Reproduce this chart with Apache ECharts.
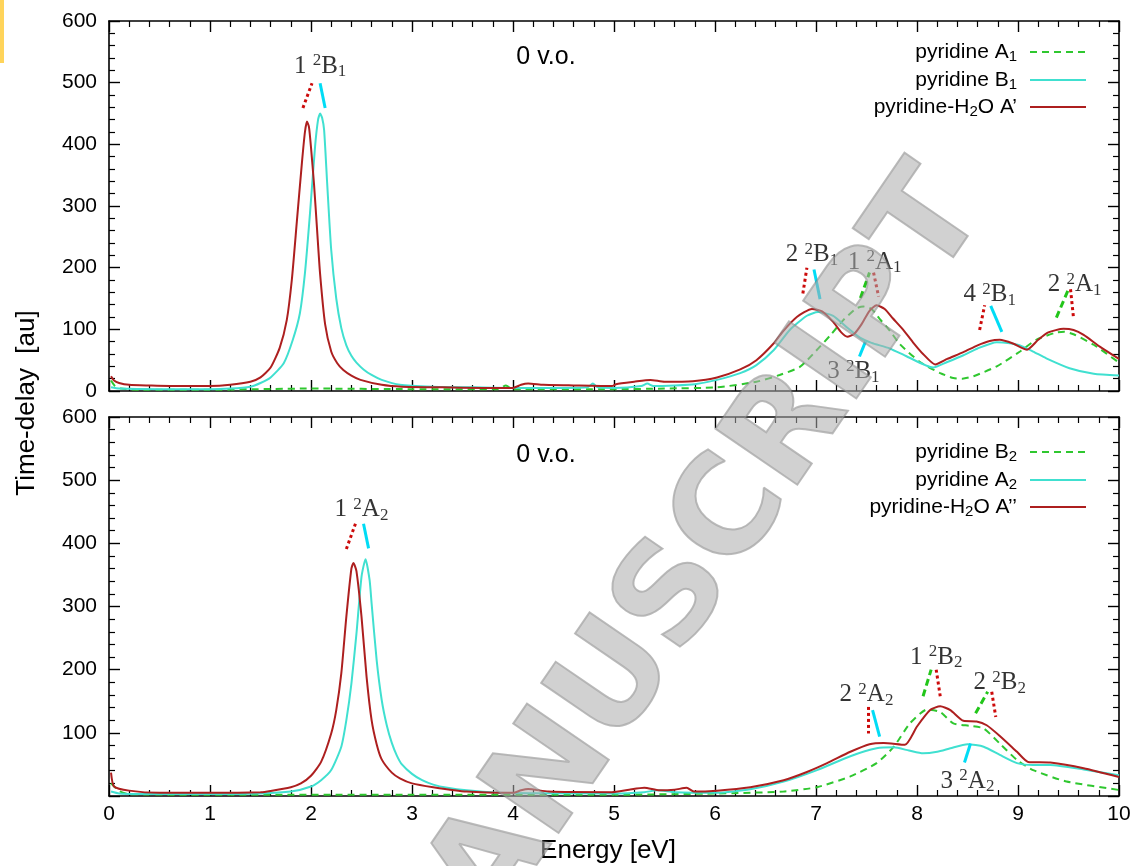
<!DOCTYPE html>
<html>
<head>
<meta charset="utf-8">
<script src="https://cdn.jsdelivr.net/npm/echarts@6/dist/echarts.min.js"></script>
<style>html,body{margin:0;padding:0;background:#fff}#c{width:1134px;height:866px}</style>
</head>
<body>
<div id="c"></div>
<script>
// ---------- data (energy [eV], time-delay [au]) ----------
var topGreenA1 = [[0.02,17],[0.06,8],[0.12,4],[0.3,2],[1.0,2],[2.0,4],[3.0,3],[3.85,3],[3.93,9],[4.0,3],[5.0,3],[5.5,4],[6.02,6],[6.41,15],[6.64,26],[6.84,39],[7.0,65],[7.14,90],[7.27,115],[7.4,134],[7.47,137],[7.55,133],[7.63,117],[7.73,98],[7.83,76],[8.03,47],[8.23,29],[8.36,21],[8.45,20],[8.56,24],[8.79,40],[9.02,64],[9.18,83],[9.38,95],[9.46,96],[9.55,92],[9.75,75],[10.0,46]];
var topCyanB1 = [[0.02,6],[0.1,4],[0.5,3],[1.0,3],[1.2,4],[1.4,7],[1.5,13],[1.6,22],[1.73,45],[1.82,83],[1.89,126],[1.94,191],[1.99,288],[2.04,396],[2.07,440],[2.09,450],[2.11,443],[2.13,423],[2.16,337],[2.2,229],[2.25,150],[2.3,102],[2.35,74],[2.4,57],[2.45,46],[2.52,35],[2.6,26],[2.7,18],[2.88,10],[3.2,7],[3.6,6],[4.0,5],[4.5,5],[4.74,6],[4.79,12],[4.84,6],[5.0,5],[5.27,8],[5.33,12],[5.39,8],[5.6,9],[5.8,11],[6.02,18],[6.25,29],[6.41,42],[6.58,66],[6.74,99],[6.91,122],[7.02,128],[7.17,122],[7.3,104],[7.44,86],[7.55,78],[7.73,69],[7.9,56],[8.16,38],[8.3,47],[8.46,58],[8.6,69],[8.79,79],[8.9,78],[9.02,74],[9.15,64],[9.28,53],[9.51,37],[9.75,28],[10.0,25]];
var topRedH2O = [[0.02,24],[0.05,17],[0.1,13],[0.2,10],[0.4,9],[0.7,8],[1.0,8],[1.2,10],[1.4,15],[1.5,22],[1.6,38],[1.69,70],[1.76,115],[1.81,180],[1.86,275],[1.91,370],[1.94,420],[1.96,437],[1.98,428],[2.0,395],[2.03,335],[2.06,262],[2.09,190],[2.14,108],[2.2,64],[2.26,45],[2.32,34],[2.4,25],[2.49,18],[2.7,10],[2.9,7],[3.3,6],[3.7,5],[4.0,5],[4.08,10],[4.15,12],[4.3,10],[4.6,9],[4.98,8],[5.02,11],[5.2,15],[5.36,18],[5.5,15],[5.78,16],[6.02,22],[6.25,35],[6.41,50],[6.58,77],[6.68,98],[6.81,120],[6.96,133],[7.06,129],[7.17,112],[7.25,95],[7.31,88],[7.38,93],[7.45,108],[7.53,130],[7.6,139],[7.68,133],[7.76,118],[7.86,100],[7.96,79],[8.06,60],[8.18,43],[8.3,52],[8.46,63],[8.6,74],[8.72,81],[8.82,83],[8.95,77],[9.09,67],[9.2,83],[9.3,95],[9.45,101],[9.55,99],[9.65,91],[9.81,72],[10.0,52]];

var botGreenB2 = [[0.02,20],[0.1,8],[0.2,3],[1.0,2],[3.0,2],[5.0,2],[6.02,4],[6.68,7],[7.01,14],[7.34,31],[7.6,52],[7.77,78],[7.93,115],[8.1,137],[8.23,133],[8.36,115],[8.53,111],[8.66,107],[8.82,83],[8.99,57],[9.15,41],[9.48,23],[10.0,9.5]];
var botCyanA2 = [[0.02,7],[0.1,4],[0.5,3],[1.0,3],[1.5,4],[1.8,7],[2.0,15],[2.1,25],[2.2,41],[2.3,78],[2.35,120],[2.4,178],[2.45,257],[2.5,347],[2.54,375],[2.58,342],[2.6,305],[2.65,215],[2.7,152],[2.75,112],[2.8,84],[2.85,64],[2.9,50],[3.0,35],[3.1,25],[3.21,18],[3.35,13],[3.54,9],[3.87,5],[5.0,4],[5.3,6],[5.43,9],[5.6,6],[6.02,5],[6.35,10.6],[6.68,22.7],[7.01,41],[7.34,63],[7.6,75.5],[7.77,77],[7.92,72],[8.06,67.5],[8.2,70],[8.33,75.5],[8.5,82],[8.66,78],[8.82,65],[8.99,52],[9.15,49],[9.32,49],[9.65,42],[10.0,33]];
var botRedH2O = [[0.02,37],[0.05,15],[0.2,8.5],[0.5,5],[1.0,5],[1.5,6],[1.6,8],[1.8,14],[1.9,20],[2.0,32],[2.1,54],[2.2,99],[2.25,136],[2.3,194],[2.35,284],[2.4,360],[2.42,369],[2.45,356],[2.5,284],[2.55,189],[2.6,120],[2.65,82],[2.7,58],[2.8,37],[2.88,28],[3.0,20],[3.21,14],[3.54,7],[4.0,5],[4.08,9],[4.15,11],[4.35,7],[4.98,6],[5.15,10],[5.3,13],[5.45,9],[5.6,10],[5.72,13],[5.79,7],[6.02,8.5],[6.35,14],[6.68,25],[6.91,38],[7.11,52],[7.34,70],[7.53,82],[7.67,84],[7.88,81],[8.0,110],[8.13,136],[8.23,142],[8.33,136],[8.46,119],[8.59,118],[8.69,112],[8.82,95],[8.99,70],[9.1,54],[9.32,53],[9.65,44],[10.0,30]];

// series names / legend labels
var topNames = ['pyridine A1', 'pyridine B1', "pyridine-H2O A'"];
var topLegendText = ['pyridine A{sub|1}', 'pyridine B{sub|1}', "pyridine-H{sub|2}O A’"];
var botNames = ['pyridine B2', 'pyridine A2', "pyridine-H2O A''"];
var botLegendText = ['pyridine B{sub|2}', 'pyridine A{sub|2}', "pyridine-H{sub|2}O A’’"];

// axis ticks
var xTicks = [0,1,2,3,4,5,6,7,8,9,10];
var yTicks = [0,100,200,300,400,500,600];

// state annotations: labels and marker segments
var topLabelText = ['1 {sup|2}B{sub|1}', '2 {sup|2}B{sub|1}', '1 {sup|2}A{sub|1}', '3 {sup|2}B{sub|1}', '4 {sup|2}B{sub|1}', '2 {sup|2}A{sub|1}'];
var topLabelPos = [[2.09,527],[6.96,221],[7.58,209],[7.37,31],[8.72,156],[9.56,172]];
var topRedTicks = [[[1.92,459],[2.01,499]],[[6.87,158],[6.91,200]],[[7.57,192],[7.62,153]],[[8.62,99],[8.67,139]],[[9.52,165],[9.55,118]]];
var topCyanTicks = [[[2.09,499],[2.14,459]],[[6.98,197],[7.04,149]],[[7.43,56],[7.49,80]],[[8.73,138],[8.84,96]]];
var topGreenTicks = [[[7.44,151],[7.53,192]],[[9.38,119],[9.5,165]]];

var botLabelText = ['1 {sup|2}A{sub|2}', '2 {sup|2}A{sub|2}', '1 {sup|2}B{sub|2}', '2 {sup|2}B{sub|2}', '3 {sup|2}A{sub|2}'];
var botLabelPos = [[2.5,453],[7.5,160],[8.19,220],[8.82,179],[8.5,23]];
var botRedTicks = [[[2.35,391],[2.44,431]],[[7.52,141],[7.52,99]],[[8.19,200],[8.23,158]],[[8.74,165],[8.78,125]]];
var botCyanTicks = [[[2.52,431],[2.57,392]],[[7.56,136],[7.63,94]],[[8.47,53],[8.53,83]]];
var botGreenTicks = [[[8.06,158],[8.14,200]],[[8.58,131],[8.7,165]]];

// ---------- styling ----------
var SANS = '"Liberation Sans", Arial, sans-serif';
var SERIF = '"Liberation Serif", "DejaVu Serif", serif';
var C_GREEN = '#2fc72f', C_CYAN = '#40e0d0', C_RED = '#ad1f1f';
var T_RED = '#cc0a0a', T_CYAN = '#00dcf5', T_GREEN = '#22c61a';

function xAx(grid, pos, labels) {
  return {
    type: 'value', gridIndex: grid, position: pos, min: 0, max: 10, interval: 1,
    axisLine: { onZero: false, lineStyle: { color: '#000', width: 1.6 } },
    axisTick: { inside: true, length: 11, lineStyle: { color: '#000', width: 1.4 } },
    minorTick: { show: true, splitNumber: 5, length: 6, lineStyle: { color: '#000', width: 1.2 } },
    splitLine: { show: false },
    axisLabel: { show: labels, fontSize: 21, fontFamily: SANS, color: '#000', margin: 8,
      formatter: function (v) { return xTicks.indexOf(v) >= 0 ? String(v) : ''; } }
  };
}
function yAx(grid, pos, labels, hideZero) {
  return {
    type: 'value', gridIndex: grid, position: pos, min: 0, max: 600, interval: 100,
    axisLine: { onZero: false, lineStyle: { color: '#000', width: 1.6 } },
    axisTick: { inside: true, length: 11, lineStyle: { color: '#000', width: 1.4 } },
    minorTick: { show: true, splitNumber: 5, length: 6, lineStyle: { color: '#000', width: 1.2 } },
    splitLine: { show: false },
    axisLabel: { show: labels, fontSize: 21, fontFamily: SANS, color: '#000', margin: 12,
      formatter: function (v) { if (hideZero && v === 0) return ''; return yTicks.indexOf(v) >= 0 ? String(v) : ''; } }
  };
}
function segs(list, color, type) {
  return {
    silent: true, symbol: ['none', 'none'], animation: false,
    label: { show: false },
    lineStyle: { color: color, width: 3, type: type },
    data: list.map(function (s) { return [{ coord: s[0] }, { coord: s[1] }]; })
  };
}
function curve(name, data, xi, yi, color, type, marks) {
  var s = {
    name: name, type: 'line', xAxisIndex: xi, yAxisIndex: yi, data: data,
    showSymbol: false, symbol: 'none', smooth: 0.2, animation: false, silent: true,
    lineStyle: { color: color, width: 2, type: type }, itemStyle: { color: color }, z: 3
  };
  if (marks) s.markLine = marks;
  return s;
}
var richT = {
  sup: { fontSize: 17, fontFamily: SERIF, color: '#000', verticalAlign: 'top', lineHeight: 16 },
  sub: { fontSize: 17, fontFamily: SERIF, color: '#000', verticalAlign: 'bottom', lineHeight: 16 }
};
function labelSeries(texts, pos, xi, yi) {
  return {
    type: 'scatter', xAxisIndex: xi, yAxisIndex: yi, symbolSize: 1, silent: true, animation: false,
    itemStyle: { color: 'rgba(0,0,0,0)' }, z: 6,
    data: pos.map(function (p, i) {
      return { value: p, label: { show: true, position: 'inside', formatter: texts[i],
        fontSize: 25, fontFamily: SERIF, color: '#000', lineHeight: 28, rich: richT } };
    })
  };
}
var richL = { sub: { fontSize: 15, fontFamily: SANS, color: '#000', verticalAlign: 'bottom', lineHeight: 14 } };
function legendItem(name, text, top) {
  return {
    data: [name], right: 47, top: top, orient: 'horizontal', align: 'right',
    itemWidth: 56, itemHeight: 14, padding: 0, selectedMode: false,
    itemStyle: { opacity: 0 },
    formatter: function () { return text; },
    textStyle: { fontSize: 21, fontFamily: SANS, color: '#000', lineHeight: 24, padding: [0, 8, 0, 0], rich: richL }
  };
}

var option = {
  backgroundColor: '#fff',
  animation: false,
  grid: [
    { left: 109, top: 21, width: 1010, height: 370 },
    { left: 109, top: 417, width: 1010, height: 379 }
  ],
  xAxis: [xAx(0, 'bottom', false), xAx(0, 'top', false), xAx(1, 'bottom', true), xAx(1, 'top', false)],
  yAxis: [yAx(0, 'left', true, false), yAx(0, 'right', false, false), yAx(1, 'left', true, true), yAx(1, 'right', false, false)],
  legend: [
    legendItem(topNames[0], topLegendText[0], 40),
    legendItem(topNames[1], topLegendText[1], 68),
    legendItem(topNames[2], topLegendText[2], 95),
    legendItem(botNames[0], botLegendText[0], 440),
    legendItem(botNames[1], botLegendText[1], 468),
    legendItem(botNames[2], botLegendText[2], 495)
  ],
  series: [
    curve(topNames[0], topGreenA1, 0, 0, C_GREEN, [7, 5], segs(topGreenTicks, T_GREEN, [7, 4])),
    curve(topNames[1], topCyanB1, 0, 0, C_CYAN, 'solid', segs(topCyanTicks, T_CYAN, 'solid')),
    curve(topNames[2], topRedH2O, 0, 0, C_RED, 'solid', segs(topRedTicks, T_RED, [3, 3])),
    curve(botNames[0], botGreenB2, 2, 2, C_GREEN, [7, 5], segs(botGreenTicks, T_GREEN, [7, 4])),
    curve(botNames[1], botCyanA2, 2, 2, C_CYAN, 'solid', segs(botCyanTicks, T_CYAN, 'solid')),
    curve(botNames[2], botRedH2O, 2, 2, C_RED, 'solid', segs(botRedTicks, T_RED, [3, 3])),
    labelSeries(topLabelText, topLabelPos, 0, 0),
    labelSeries(botLabelText, botLabelPos, 2, 2)
  ],
  graphic: [
    { type: 'rect', left: 0, top: 0, shape: { width: 4, height: 63 }, style: { fill: '#ffd45a' }, silent: true },
    { type: 'text', x: 546, y: 57, style: { text: '0 v.o.', font: '25px ' + SANS, fill: '#000', align: 'center', verticalAlign: 'middle' }, silent: true },
    { type: 'text', x: 546, y: 455, style: { text: '0 v.o.', font: '25px ' + SANS, fill: '#000', align: 'center', verticalAlign: 'middle' }, silent: true },
    { type: 'text', x: 27, y: 403, rotation: Math.PI / 2, style: { text: 'Time-delay  [au]', font: '26px ' + SANS, fill: '#000', align: 'center', verticalAlign: 'middle' }, silent: true },
    { type: 'text', x: 608, y: 851, style: { text: 'Energy [eV]', font: '26px ' + SANS, fill: '#000', align: 'center', verticalAlign: 'middle' }, silent: true },
    { type: 'text', x: 672, y: 605, rotation: 0.97, z: 50, silent: true,
      style: { text: 'MANUSCRIPT', font: 'bold 136px "DejaVu Sans", sans-serif', fill: 'rgba(172,172,172,0.55)', stroke: 'rgba(120,120,120,0.5)', lineWidth: 2, align: 'center', verticalAlign: 'middle' } }
  ]
};
var chart = echarts.init(document.getElementById('c'), null, { renderer: 'canvas' });
chart.setOption(option);
</script>
</body>
</html>
